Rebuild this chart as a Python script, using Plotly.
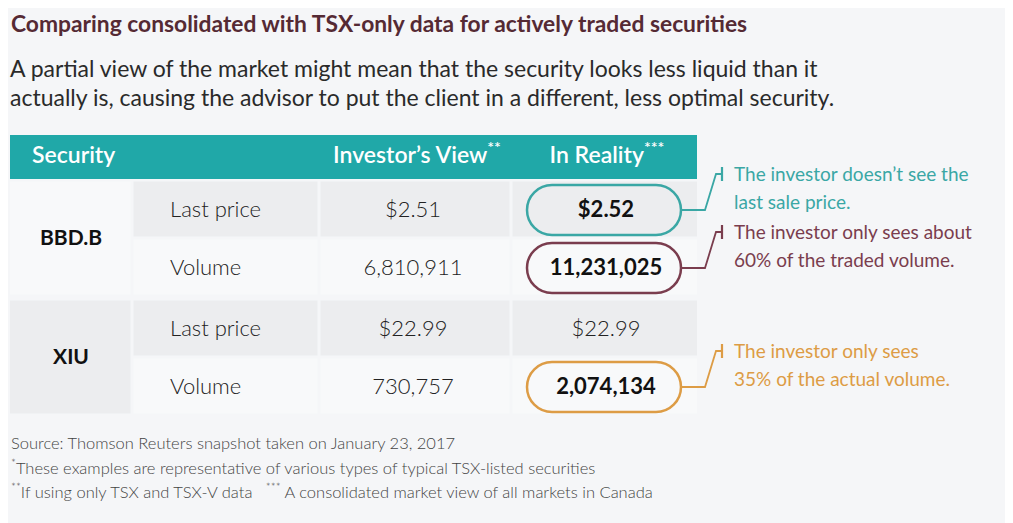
import plotly.graph_objects as go

# table content
securities = ["BBD.B", "XIU"]
metrics = ["Last price", "Volume"]
investor_last = [2.51, 22.99]
investor_volume = [6810911, 730757]
reality_last = [2.52, 22.99]
reality_volume = [11231025, 2074134]

# callouts on the "In Reality" column: (security index, metric index, text lines, colour)
callouts = [
    (0, 0, ["The investor doesn\u2019t see the", "last sale price."], "#3aa7a5"),
    (0, 1, ["The investor only sees about", "60% of the traded volume."], "#7a3d4e"),
    (1, 1, ["The investor only sees", "35% of the actual volume."], "#dd9c45"),
]

headers = ["Security", "Investor\u2019s View<sup>**</sup>", "In Reality<sup>***</sup>"]
footnotes = [
    "Source: Thomson Reuters snapshot taken on January 23, 2017",
    "<sup>*</sup>These examples are representative of various types of typical TSX-listed securities",
    "<sup>**</sup>If using only TSX and TSX-V data   <sup>***</sup> A consolidated market view of all markets in Canada",
]

W, H = 1013, 523
OFF = 8  # page margin of the html body
BG = "#f5f6f8"
TEAL = "#20a8a8"
GRAY = "#ecedef"
LIGHT = "#f8f9fa"
FONT = "Lato"
LIGHT_FONT = "Lato Light, Lato"

col_edges = [10, 132, 319, 511, 697]
header_top, header_bot = 135, 179
block_tops = [180, 299]
row_h = 58
gap = 1.5


def row_span(b, r):
    top = block_tops[b] + r * row_h
    return top, top + row_h


def col_mid(c):
    return (col_edges[c] + col_edges[c + 1]) / 2


fig = go.Figure()
shapes = []
annotations = []

# header bar
shapes.append(dict(type="rect", xref="x", yref="y", x0=col_edges[0], x1=col_edges[-1],
                   y0=header_top, y1=header_bot, fillcolor=TEAL, line_width=0, layer="below"))

# cell backgrounds
for b, sec in enumerate(securities):
    top, _ = row_span(b, 0)
    _, bot = row_span(b, 1)
    shapes.append(dict(type="rect", xref="x", yref="y", x0=col_edges[0], x1=col_edges[1] - gap,
                       y0=top + gap, y1=bot - gap, fillcolor=LIGHT if b == 0 else GRAY,
                       line_width=0, layer="below"))
    for r in range(len(metrics)):
        y0, y1 = row_span(b, r)
        for c in range(1, 4):
            shapes.append(dict(type="rect", xref="x", yref="y", x0=col_edges[c] + gap,
                               x1=col_edges[c + 1] - (gap if c < 3 else 0),
                               y0=y0 + gap, y1=y1 - gap, fillcolor=GRAY if r == 0 else LIGHT,
                               line_width=0, layer="below"))

# header text
head_y = (header_top + header_bot) / 2
head_font = dict(family=FONT, size=23, color="white", weight=600)
fig.add_trace(go.Scatter(x=[col_edges[0] + 22], y=[head_y], mode="text",
                         text=[headers[0]], textposition="middle right",
                         textfont=head_font, hoverinfo="skip"))
fig.add_trace(go.Scatter(x=[col_mid(2) + 2, col_mid(3) + 3], y=[head_y] * 2,
                         mode="text", text=headers[1:], textposition="middle center",
                         textfont=head_font, hoverinfo="skip"))

# security names
sec_y = [(row_span(b, 0)[0] + row_span(b, 1)[1]) / 2 + 2 for b in range(len(securities))]
fig.add_trace(go.Scatter(x=[col_mid(0)] * len(securities), y=sec_y, mode="text", text=securities,
                         textposition="middle center",
                         textfont=dict(family=FONT, size=21, color="#111", weight=700),
                         hoverinfo="skip"))

# metric labels and values
lab_x, lab_y, lab_t = [], [], []
inv_x, inv_y, inv_t = [], [], []
rea_x, rea_y, rea_t = [], [], []
bold_x, bold_y, bold_t = [], [], []
highlighted = {(b, r) for b, r, _, _ in callouts}
for b in range(len(securities)):
    inv = [f"${investor_last[b]:.2f}", f"{investor_volume[b]:,}"]
    rea = [f"${reality_last[b]:.2f}", f"{reality_volume[b]:,}"]
    for r, m in enumerate(metrics):
        y0, y1 = row_span(b, r)
        yc = (y0 + y1) / 2 + 2
        lab_x.append(col_edges[1] + 38); lab_y.append(yc); lab_t.append(m)
        inv_x.append(col_mid(2) - 2); inv_y.append(yc); inv_t.append(inv[r])
        if (b, r) in highlighted:
            bold_x.append(col_mid(3) + 2); bold_y.append(yc); bold_t.append(rea[r])
        else:
            rea_x.append(col_mid(3) + 2); rea_y.append(yc); rea_t.append(rea[r])

light_font = dict(family=LIGHT_FONT, size=22, color="#222", weight=300)
fig.add_trace(go.Scatter(x=lab_x, y=lab_y, mode="text", text=lab_t, textposition="middle right",
                         textfont=light_font, hoverinfo="skip"))
fig.add_trace(go.Scatter(x=inv_x, y=inv_y, mode="text", text=inv_t, textposition="middle center",
                         textfont=light_font, hoverinfo="skip"))
fig.add_trace(go.Scatter(x=rea_x, y=rea_y, mode="text", text=rea_t, textposition="middle center",
                         textfont=light_font, hoverinfo="skip"))
fig.add_trace(go.Scatter(x=bold_x, y=bold_y, mode="text", text=bold_t, textposition="middle center",
                         textfont=dict(family=FONT, size=22, color="#111", weight=700),
                         hoverinfo="skip"))

# pills + connector lines + callout text
K = 0.5523
for b, r, lines, color in callouts:
    y0, y1 = row_span(b, r)
    yc = (y0 + y1) / 2 + 1
    px0, px1 = col_mid(3) - 77, col_mid(3) + 77
    rad = 25
    py0, py1 = yc - rad, yc + rad
    path = (f"M{px0 + rad},{py0} L{px1 - rad},{py0} "
            f"C{px1 - rad + K * rad},{py0} {px1},{yc - K * rad} {px1},{yc} "
            f"C{px1},{yc + K * rad} {px1 - rad + K * rad},{py1} {px1 - rad},{py1} "
            f"L{px0 + rad},{py1} "
            f"C{px0 + rad - K * rad},{py1} {px0},{yc + K * rad} {px0},{yc} "
            f"C{px0},{yc - K * rad} {px0 + rad - K * rad},{py0} {px0 + rad},{py0} Z")
    shapes.append(dict(type="path", xref="x", yref="y", path=path,
                       line=dict(color=color, width=2.5), fillcolor="rgba(0,0,0,0)"))
    ty = yc - 36
    fig.add_trace(go.Scatter(x=[px1, px1 + 24, px1 + 35, px1 + 41], y=[yc, yc, ty, ty],
                             mode="lines", line=dict(color=color, width=1.8), hoverinfo="skip"))
    fig.add_trace(go.Scatter(x=[px1 + 41, px1 + 41], y=[ty - 7, ty + 7], mode="lines",
                             line=dict(color=color, width=2.2), hoverinfo="skip"))
    fig.add_trace(go.Scatter(x=[px1 + 53] * len(lines), y=[ty + 2 + 28 * i for i in range(len(lines))],
                             mode="text", text=lines, textposition="middle right",
                             textfont=dict(family=FONT, size=19, color=color, weight=400),
                             hoverinfo="skip"))

# title, subtitle, footnotes
annotations.append(dict(x=9, y=23, xref="x", yref="y",
                        text="<b>Comparing consolidated with TSX-only data for actively traded securities</b>",
                        showarrow=False, xanchor="left", yanchor="middle",
                        font=dict(family=FONT, size=22.8, color="#552a34")))
sub = ["A partial view of the market might mean that the security looks less liquid than it",
       "actually is, causing the advisor to put the client in a different, less optimal security."]
for i, s in enumerate(sub):
    annotations.append(dict(x=8, y=68 + 29 * i, xref="x", yref="y", text=s, showarrow=False,
                            xanchor="left", yanchor="middle",
                            font=dict(family=FONT, size=23, color="#2a2a2a")))
for i, s in enumerate(footnotes):
    annotations.append(dict(x=9, y=443 + 24 * i, xref="x", yref="y", text=s, showarrow=False,
                            xanchor="left", yanchor="middle",
                            font=dict(family=LIGHT_FONT, size=16.5, color="#444", weight=300)))

fig.update_layout(
    width=W, height=H, margin=dict(l=0, r=0, t=0, b=0),
    paper_bgcolor=BG, plot_bgcolor=BG, showlegend=False,
    xaxis=dict(range=[OFF, W + OFF], visible=False, fixedrange=True),
    yaxis=dict(range=[H + OFF, OFF], visible=False, fixedrange=True),
    shapes=shapes, annotations=annotations,
)

fig.write_html("out.html")
